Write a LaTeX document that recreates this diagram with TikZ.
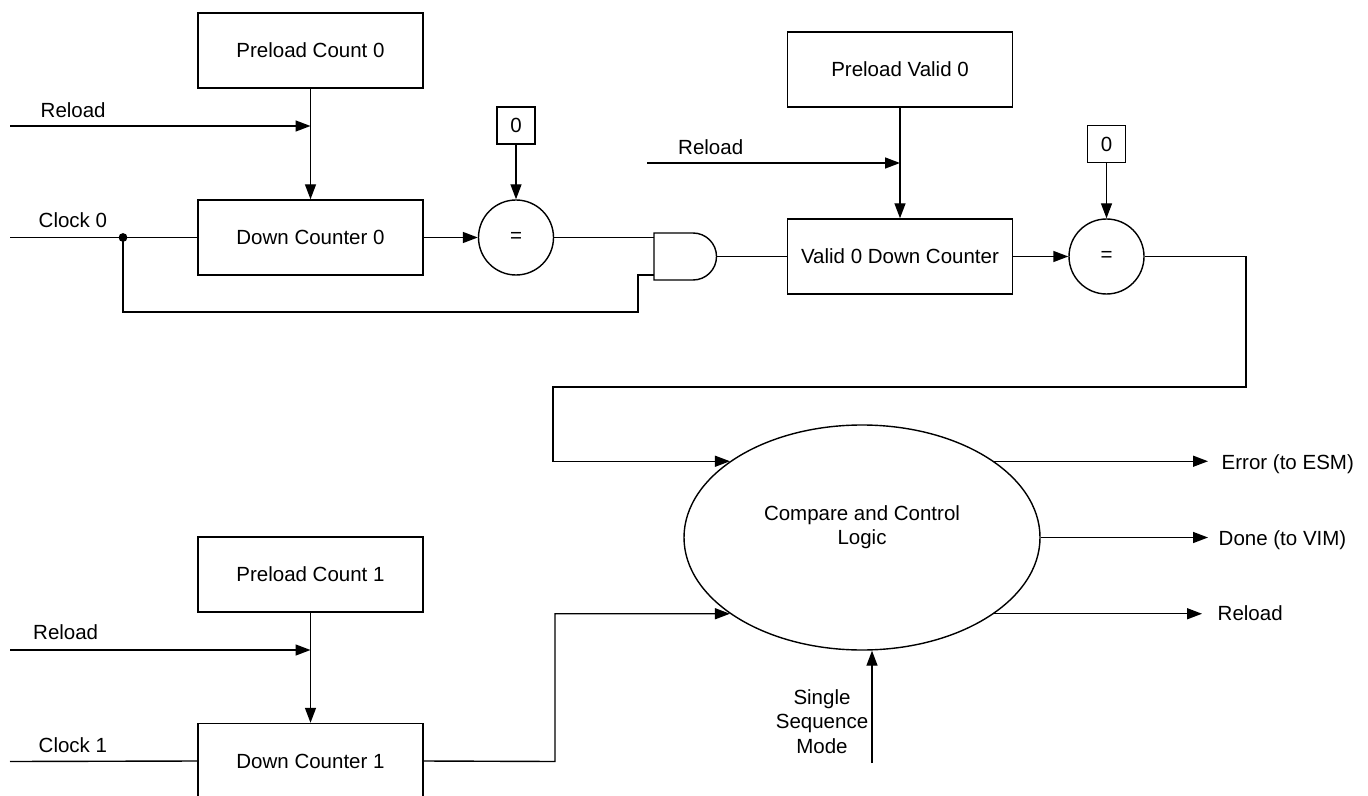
\documentclass[tikz,border=0pt]{standalone}
\usepackage{fontspec}
\setmainfont{Liberation Sans}
\usetikzlibrary{arrows.meta, positioning, calc, shapes.geometric}

\begin{document}
\begin{tikzpicture}[
			x=0.5pt, y=-0.5pt,
			font=\fontsize{10.25}{12.4}\selectfont,
			line width=0.7pt,
			block/.style={rectangle, draw, minimum width=112.5pt, minimum height=37.5pt, align=center},
			zerobox/.style={rectangle, draw, minimum width=19pt, minimum height=18.5pt, inner sep=0pt},
			cmp/.style={circle, draw, minimum size=37.5pt, inner sep=0pt},
			logic/.style={ellipse, draw, minimum width=178pt, minimum height=112.5pt, inner sep=0pt, align=center},
			lbl/.style={inner sep=0pt, anchor=base west},
			>={Triangle[length=7.5pt, width=5.5pt]}
			]
			\useasboundingbox (0,0) rectangle (1368,796);
			
			% counter 0
			\node[block] (pc0) at (310.5,50.5) {Preload Count 0};
			\node[block] (dc0) at (310.5,237.5) {Down Counter 0};
			\node[zerobox] (z0) at (516,125.5) {0};
			\node[cmp] (eq0) at (516,237.5) {=};
			\coordinate (rl0) at (10,126);
			\coordinate (ck0) at (10,237.5);
			\coordinate (j0) at (123,237.5);
			\node[lbl] (rl0txt) at (40,117.5) {Reload};
			\node[lbl] (ck0txt) at (38,228) {Clock 0};
			\draw[->] (pc0) -- (dc0);
			\draw[->] (rl0) -- (rl0 -| pc0.south);
			\draw (ck0) -- (dc0.west);
			\fill (j0) circle[radius=2.2pt];
			\draw[->] (dc0) -- (eq0);
			\draw[->] (z0) -- (eq0);
			
			% and gate
			\coordinate (andA) at (654,237.5);
			\coordinate (andB) at (654,275);
			\coordinate (andY) at (716.5,256.5);
			\draw (654,233) -- (693,233) arc[start angle=90, end angle=-90, radius=11.75pt] -- (654,280) -- cycle;
			\draw (eq0) -- (andA);
			\draw (j0) |- (638,312) |- (andB);
			
			% valid counter
			\node[block] (pv0) at (900,69.5) {Preload Valid 0};
			\node[block] (vdc) at (900,256.5) {Valid 0 Down Counter};
			\node[zerobox] (z1) at (1106.5,144) {0};
			\node[cmp] (eq1) at (1106.5,256.5) {=};
			\coordinate (rl1) at (647,163);
			\node[lbl] (rl1txt) at (677.5,154.5) {Reload};
			\draw (andY) -- (vdc.west);
			\draw[->] (pv0) -- (vdc);
			\draw[->] (rl1) -- (rl1 -| pv0.south);
			\draw[->] (vdc) -- (eq1);
			\draw[->] (z1) -- (eq1);
			
			% counter 1
			\node[block] (pc1) at (310.5,574.5) {Preload Count 1};
			\node[block] (dc1) at (310.5,761) {Down Counter 1};
			\coordinate (rl2) at (10,650);
			\coordinate (ck1) at (10,761.5);
			\node[lbl] (rl2txt) at (32.5,639.5) {Reload};
			\node[lbl] (ck1txt) at (38,752.5) {Clock 1};
			\draw[->] (pc1) -- (dc1);
			\draw[->] (rl2) -- (rl2 -| pc1.south);
			\draw (ck1) -- (dc1.west);
			
			% compare and control
			\node[logic] (ccl) at (862,537.5) {Compare and Control\\Logic\\\mbox{}};
			\draw[->] (eq1.east) -- (1246,256.5) |- (553,387) |- (ccl.150);
			\draw[->] (dc1.east) -- (555,761.5) |- (ccl.210);
			\coordinate (ssm) at (872,763);
			\node (ssmtxt) at (822,721.5) [align=center, inner sep=0pt] {Single\\Sequence\\Mode};
			\draw[->] (ssm) -- (ssm |- ccl.south);
			
			% outputs
			\coordinate (errout) at (1208,462);
			\coordinate (doneout) at (1208,537.5);
			\coordinate (rlout) at (1202,613);
			\draw[->] (ccl.30) -- (ccl.30 -| errout);
			\draw[->] (ccl.east) -- (ccl.east -| doneout);
			\draw[->] (ccl.330) -- (ccl.330 -| rlout);
			\node[lbl] (errtxt) at (1221,469.5) {Error (to ESM)};
			\node[lbl] (donetxt) at (1218,545) {Done (to VIM)};
			\node[lbl] (rlouttxt) at (1217,620.5) {Reload};
		\end{tikzpicture}
\end{document}
